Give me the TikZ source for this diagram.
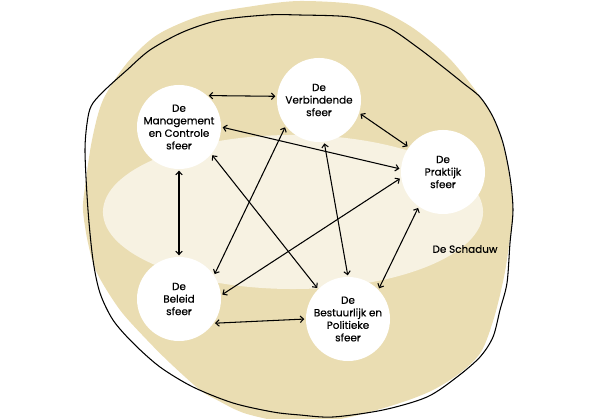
\documentclass[tikz,border=0pt]{standalone}
\usepackage{fontspec}
\setmainfont{Poppins}
\newfontfamily\sfeerfont{Poppins}[FakeBold=0.5]
\usetikzlibrary{arrows.meta}
\definecolor{zand}{HTML}{EADDB2}
\definecolor{licht}{HTML}{F7F2E2}

\begin{document}
\begin{tikzpicture}[x=0.025cm,y=-0.025cm,
    sfeer/.style={circle,fill=white,minimum size=2.1cm,inner sep=0pt,align=center,
      font=\fontsize{7.4}{8.9}\sfeerfont},
    >={Straight Barb[length=2.4pt,width=4.6pt]}]
  \useasboundingbox (0,0) rectangle (600,419);
  \fill[zand] plot[smooth cycle] coordinates {(300,1) (367,6) (410,26) (447,56) (473,87)
    (492,115) (503,145) (509,175) (513,210) (509,245) (504,277) (494,318) (481,352)
    (460,373) (433,390) (400,403) (350,417) (300,424) (247,414) (217,400) (200,390)
    (170,363) (147,340) (120,310) (97,273) (88,243) (83,210) (85,187) (92,140)
    (103,100) (127,63) (157,35) (200,16) (247,7)};
  \fill[licht] (293,212) ellipse [x radius=4.75cm,y radius=1.925cm];
  \draw[line width=0.75pt] plot[smooth cycle] coordinates {(93,103) (107,88) (127,70)
    (150,50) (183,32) (220,20) (267,15) (300,15) (350,17) (387,27) (417,47) (443,67)
    (463,83) (480,97) (493,117) (503,143) (510,177) (513,210) (510,243) (507,283)
    (500,310) (493,337) (480,357) (457,377) (427,397) (383,410) (333,417) (300,415)
    (273,412) (233,403) (193,387) (160,367) (133,343) (113,320) (100,293) (93,260)
    (88,210) (85,150) (88,117)};

  \node[sfeer] (S_mc) at (179,127) {De\\Management\\en Controle\\sfeer};
  \node[sfeer] (S_vb) at (319,100) {De\\Verbindende\\sfeer};
  \node[sfeer] (S_pr) at (443,172) {De\\Praktijk\\sfeer};
  \node[sfeer] (S_bl) at (179,299) {De\\Beleid\\sfeer};
  \node[sfeer] (S_bp) at (348,319) {De\\Bestuurlijk en\\Politieke\\sfeer};
  \node[font=\fontsize{7.4}{8.9}\sfeerfont] (schaduw) at (465,249) {De Schaduw};

  \path[<->,line width=0.75pt,shorten >=1pt,shorten <=1pt]
    (S_mc.48) edge (S_vb.175)
    (S_vb.-18) edge (S_pr.144)
    (S_mc.0) edge (S_pr.176)
    (S_mc.-90) edge (S_bl.90)
    (S_mc.-40) edge (S_bp.135)
    (S_vb.218) edge (S_bl.34)
    (S_vb.-83) edge (S_bp.90)
    (S_pr.188) edge (S_bl.5)
    (S_pr.235) edge (S_bp.44)
    (S_bl.-35) edge (S_bp.180);
\end{tikzpicture}
\end{document}
